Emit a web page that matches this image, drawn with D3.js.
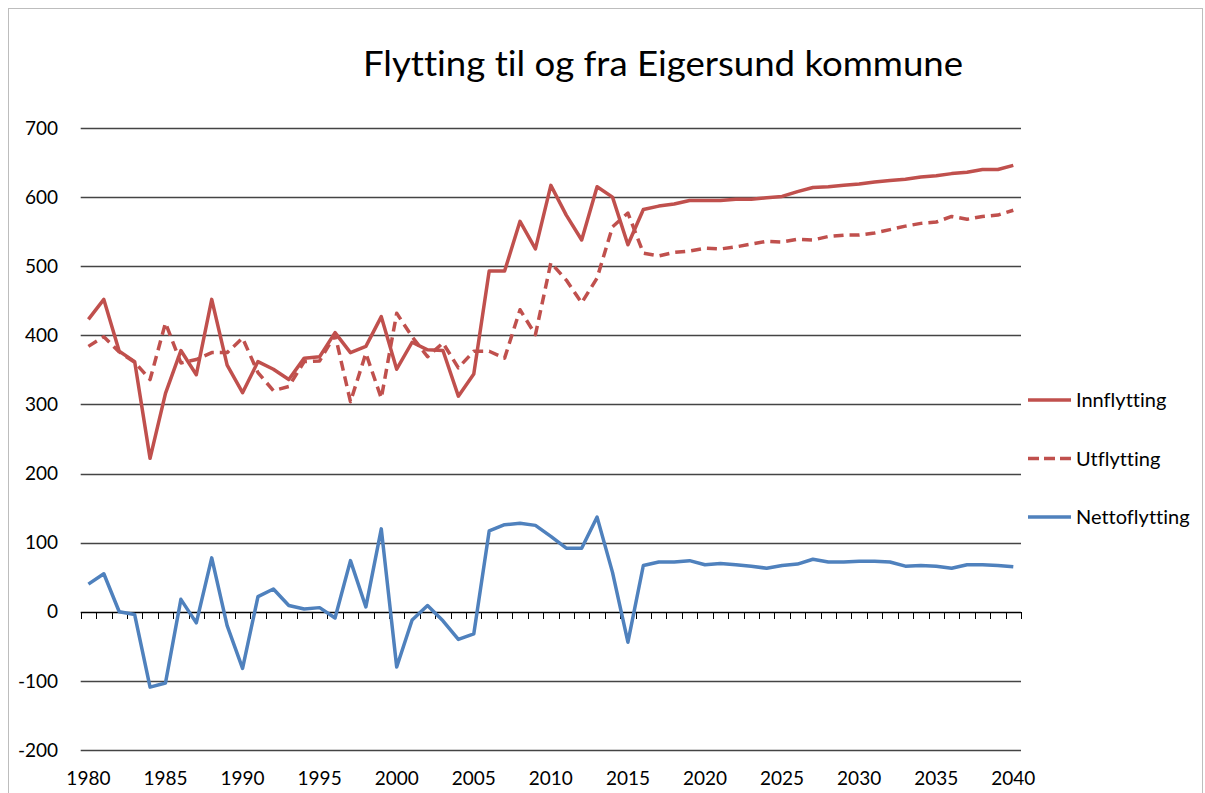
<!DOCTYPE html>
<meta charset="utf-8">
<script src="https://d3js.org/d3.v7.min.js"></script>
<style>
  body { margin: 0; background: #fff; }
  text { font-family: Lato, "Open Sans", sans-serif; fill: #000; font-variant-ligatures: none; font-feature-settings: "liga" 0; }
</style>
<div id="chart"></div>
<script>

// years 1980..2040
var years = d3.range(1980, 2041);

var innflytting = [
  423, 452, 377, 362, 222, 316, 378, 343, 452, 357,
  317, 362, 351, 336, 367, 369, 404, 375, 384, 427,
  351, 390, 379, 378, 312, 344, 493, 493, 565, 525,
  617, 574, 538, 615, 600, 531, 582, 587, 590, 595,
  595, 595, 597, 597, 599, 601, 608, 614, 615, 617,
  619, 622, 624, 626, 629, 631, 634, 636, 640, 640,
  646
];

var utflytting = [
  384, 398, 376, 361, 336, 418, 360, 365, 375, 375,
  396, 346, 320, 326, 362, 363, 401, 304, 374, 309,
  432, 398, 369, 389, 353, 377, 377, 367, 437, 401,
  505, 480, 447, 483, 557, 577, 519, 515, 520, 522,
  526, 525, 528, 532, 536, 535, 539, 538, 543, 545,
  545, 548, 553, 558, 562, 564, 572, 568, 572, 574,
  581
];

var nettoflytting = [
  40, 55, 0, -4, -109, -103, 18, -16, 78, -20,
  -82, 22, 33, 9, 4, 6, -9, 74, 7, 120,
  -80, -12, 9, -13, -40, -32, 117, 126, 128, 125,
  109, 92, 92, 137, 57, -44, 67, 72, 72, 74,
  68, 70, 68, 66, 63, 67, 69, 76, 72, 72,
  73, 73, 72, 66, 67, 66, 63, 68, 68, 67,
  65
];

var yTicks = [-200, -100, 0, 100, 200, 300, 400, 500, 600, 700];
var xLabels = d3.range(1980, 2041, 5);

var series = [
  {name: "Innflytting", values: innflytting, color: "#C0504D", dash: null},
  {name: "Utflytting", values: utflytting, color: "#C0504D", dash: "10,6"},
  {name: "Nettoflytting", values: nettoflytting, color: "#4F81BD", dash: null}
];

var W = 1205, H = 793;
var plot = {left: 80.7, right: 1021, top: 128, bottom: 750};

var svg = d3.select("#chart")
  .append("svg")
    .attr("width", W)
    .attr("height", H);

// outer chart border
svg.append("rect")
  .attr("x", 8.5).attr("y", 8.5)
  .attr("width", 1194).attr("height", 800)
  .attr("fill", "none")
  .attr("stroke", "#bdbdbd")
  .attr("stroke-width", 1);

var x = d3.scaleLinear()
  .domain([1979.5, 2040.5])
  .range([plot.left, plot.right]);

var y = d3.scaleLinear()
  .domain([-200, 700])
  .range([plot.bottom, plot.top]);

// title
svg.append("text")
  .attr("x", 663)
  .attr("y", 76)
  .attr("text-anchor", "middle")
  .attr("textLength", 600)
  .attr("lengthAdjust", "spacingAndGlyphs")
  .style("font-size", "34px")
  .text("Flytting til og fra Eigersund kommune");

// gridlines
svg.append("g")
  .selectAll("line")
  .data(yTicks)
  .enter()
  .append("line")
    .attr("x1", plot.left)
    .attr("x2", plot.right)
    .attr("y1", function(d) { return Math.round(y(d)) + 0.5; })
    .attr("y2", function(d) { return Math.round(y(d)) + 0.5; })
    .attr("stroke", function(d) { return d === 0 ? "#000" : "#444"; })
    .attr("stroke-width", 1.3);

// y labels
svg.append("g")
  .selectAll("text")
  .data(yTicks)
  .enter()
  .append("text")
    .attr("x", 58)
    .attr("y", function(d) { return y(d); })
    .attr("dy", "0.35em")
    .attr("text-anchor", "end")
    .style("font-size", "19px")
    .text(function(d) { return d; });

// x tick marks on the zero line, between categories
var bounds = d3.range(years.length + 1).map(function(i) { return 1979.5 + i; });
svg.append("g")
  .selectAll("line")
  .data(bounds)
  .enter()
  .append("line")
    .attr("x1", function(d) { return Math.round(x(d)) + 0.5; })
    .attr("x2", function(d) { return Math.round(x(d)) + 0.5; })
    .attr("y1", Math.round(y(0)))
    .attr("y2", Math.round(y(0)) + 7)
    .attr("stroke", "#000")
    .attr("stroke-width", 1);

// x labels
svg.append("g")
  .selectAll("text")
  .data(xLabels)
  .enter()
  .append("text")
    .attr("x", function(d) { return x(d); })
    .attr("y", 785)
    .attr("text-anchor", "middle")
    .style("font-size", "19px")
    .text(function(d) { return d; });

// lines
var line = d3.line()
  .x(function(d, i) { return x(years[i]); })
  .y(function(d) { return y(d); });

svg.append("g")
  .selectAll("path")
  .data(series)
  .enter()
  .append("path")
    .attr("d", function(s) { return line(s.values); })
    .attr("fill", "none")
    .attr("stroke", function(s) { return s.color; })
    .attr("stroke-width", 3.5)
    .attr("stroke-linejoin", "round")
    .attr("stroke-dasharray", function(s) { return s.dash; });

// legend
var legend = svg.append("g")
  .selectAll("g")
  .data(series)
  .enter()
  .append("g")
    .attr("transform", function(s, i) { return "translate(1028," + (400 + i * 58.5) + ")"; });

legend.append("line")
  .attr("x1", 0).attr("x2", 43)
  .attr("y1", 0).attr("y2", 0)
  .attr("stroke", function(s) { return s.color; })
  .attr("stroke-width", 3.5)
  .attr("stroke-dasharray", function(s) { return s.dash ? "11,5" : null; });

legend.append("text")
  .attr("x", 48)
  .attr("y", 0)
  .attr("dy", "0.35em")
  .style("font-size", "20px")
  .text(function(s) { return s.name; });

</script>
